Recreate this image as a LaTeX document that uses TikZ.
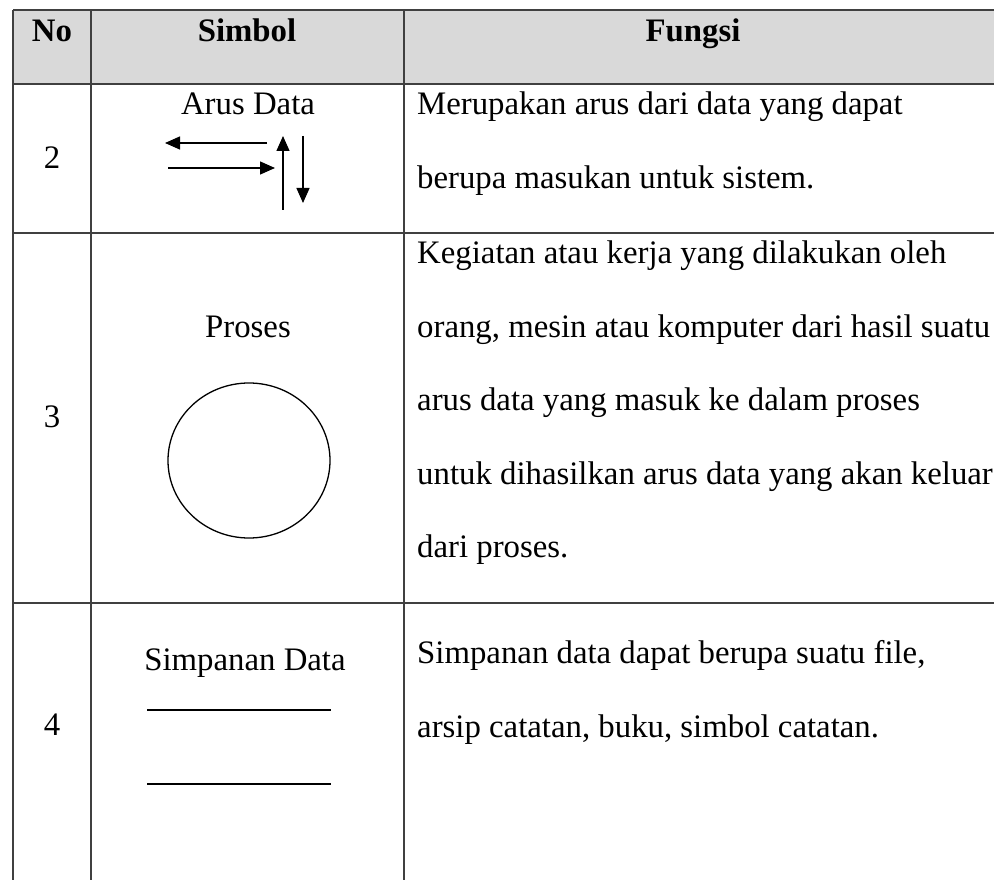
\documentclass[tikz,border=0pt]{standalone}
\usepackage{fontspec}
\setmainfont{Liberation Serif}
\usetikzlibrary{arrows.meta,shapes.geometric}
\definecolor{hdrgray}{HTML}{D9D9D9}
\definecolor{rulegray}{HTML}{404040}
\tikzset{
  px/.style={x=1pt,y=-1pt},
  rulel/.style={draw=rulegray,line width=1.6pt},
  txt/.style={inner sep=0pt,font=\fontsize{32.8}{40}\selectfont},
  lefttxt/.style={txt,anchor=base west},
  ctrtxt/.style={txt,anchor=base},
  hdrtxt/.style={txt,anchor=base,font=\fontsize{32.8}{40}\selectfont\bfseries},
  flow/.style={line width=1.3pt,-{Triangle[length=15pt,width=13pt]}},
  storeline/.style={line width=1.4pt},
  procshape/.style={ellipse,draw,line width=1.3pt,minimum width=162pt,minimum height=155pt,inner sep=0pt}
}
\begin{document}
\begin{tikzpicture}[px]
\useasboundingbox (0,0) rectangle (994,880);
\clip (0,0) rectangle (994,880);
% header fill
\fill[hdrgray] (13,10) rectangle (1010,84);
% grid
\draw[rulel] (13,10) -- (1010,10);
\draw[rulel] (13,84) -- (1010,84);
\draw[rulel] (13,233) -- (1010,233);
\draw[rulel] (13,603) -- (1010,603);
\draw[rulel] (13,10) -- (13,900);
\draw[rulel] (91,10) -- (91,900);
\draw[rulel] (404,10) -- (404,900);
% header
\node[hdrtxt] (hno) at (52,42) {No};
\node[hdrtxt] (hsim) at (247,42) {Simbol};
\node[hdrtxt] (hfun) at (693,42) {Fungsi};
% row 2
\node[ctrtxt] (n2) at (52,168) {2};
\node[ctrtxt] (s2) at (248,115) {Arus Data};
\coordinate (la) at (267,143); \coordinate (lb) at (165,143);
\coordinate (ra) at (168,168); \coordinate (rb) at (275,168);
\coordinate (ua) at (283,210); \coordinate (ub) at (283,136);
\coordinate (da) at (303,136); \coordinate (db) at (303,203);
\draw[flow] (la) -- (lb);
\draw[flow] (ra) -- (rb);
\draw[flow] (ua) -- (ub);
\draw[flow] (da) -- (db);
\node[lefttxt] (f2a) at (417,115) {Merupakan arus dari data yang dapat};
\node[lefttxt] (f2b) at (417,189) {berupa masukan untuk sistem.};
% row 3
\node[ctrtxt] (n3) at (52,427) {3};
\node[ctrtxt] (s3) at (248,337) {Proses};
\node[procshape] (proc) at (249,460.5) {};
\node[lefttxt] (f3a) at (417,263) {Kegiatan atau kerja yang dilakukan oleh};
\node[lefttxt] (f3b) at (417,337) {orang, mesin atau komputer dari hasil suatu};
\node[lefttxt] (f3c) at (417,410) {arus data yang masuk ke dalam proses};
\node[lefttxt] (f3d) at (417,484) {untuk dihasilkan arus data yang akan keluar};
\node[lefttxt] (f3e) at (417,557) {dari proses.};
% row 4
\node[ctrtxt] (n4) at (52,735) {4};
\node[ctrtxt] (s4) at (245,670) {Simpanan Data};
\coordinate (sa1) at (147,710); \coordinate (sb1) at (331,710);
\coordinate (sa2) at (147,784); \coordinate (sb2) at (331,784);
\draw[storeline] (sa1) -- (sb1);
\draw[storeline] (sa2) -- (sb2);
\node[lefttxt] (f4a) at (417,663) {Simpanan data dapat berupa suatu file,};
\node[lefttxt] (f4b) at (417,737) {arsip catatan, buku, simbol catatan.};
\end{tikzpicture}
\end{document}
